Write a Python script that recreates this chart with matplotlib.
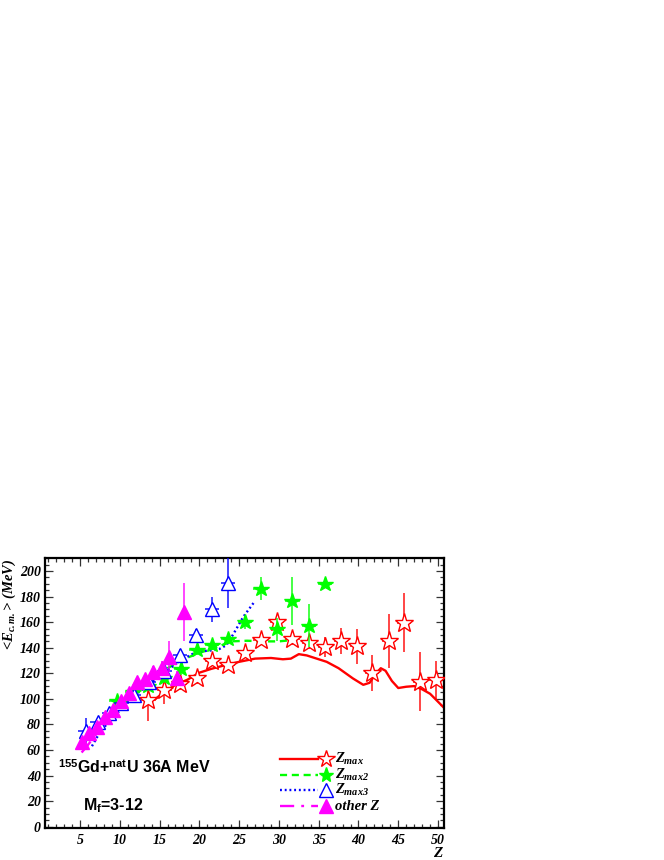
import matplotlib
matplotlib.use("Agg")
import matplotlib.pyplot as plt
from matplotlib.ticker import MultipleLocator

plt.rcParams['mathtext.fontset'] = 'custom'
plt.rcParams['mathtext.rm'] = 'Liberation Serif:bold:italic'
plt.rcParams['mathtext.it'] = 'Liberation Serif:bold:italic'
plt.rcParams['mathtext.bf'] = 'Liberation Serif:bold:italic'
plt.rcParams['mathtext.sf'] = 'Liberation Sans:bold'

# ---------------- data ----------------
# Z_max (red open stars)
zmax_z = [13.6, 15.6, 17.6, 19.7, 21.6, 23.6, 25.7, 27.7, 29.8, 31.7, 33.8, 35.8, 37.8, 39.8, 41.7, 43.8, 45.7, 47.7, 49.7]
zmax_e = [99, 107, 112, 116, 130, 126.5, 136, 146, 160.5, 147, 144, 140.5, 145.5, 141, 120.5, 145.5, 159.5, 113.5, 115]
zmax_err = [16, 11, 5, 4, 4, 3, 4, 4, 5, 5, 5, 8, 10, 14, 14, 21, 23, 23, 15]

# Z_max2 (green filled stars)
zmax2_z = [9.6, 11.6, 13.6, 15.6, 17.7, 19.65, 21.6, 23.6, 25.7, 27.7, 29.8, 31.7, 33.8, 35.8]
zmax2_e = [98, 105, 110, 116, 123, 138, 142, 147, 160, 186, 154.5, 176.7, 157.4, 190]
zmax2_err = [3, 3, 3, 3, 4, 4, 4, 4, 5, 9, 9, 19, 17, 2]

# Z_max3 (blue open triangles)
zmax3_z = [5.7, 7.2, 8.6, 10.2, 11.8, 13.7, 15.6, 17.6, 19.6, 21.6, 23.6]
zmax3_e = [75, 82, 89, 97, 103, 113, 122, 134, 150, 170, 191]
zmax3_err = [10, 4, 4, 4, 4, 4, 4, 5, 5, 10, 20]

# other Z (magenta filled triangles)
oth_z = [5.2, 6.1, 7.1, 8.2, 9.1, 10.1, 11.1, 12.1, 13.2, 14.2, 15.3, 16.2, 17.2, 18.1]
oth_e = [66.5, 73, 78, 86, 91, 98, 104.5, 113.5, 115.5, 121, 124, 133, 116, 168]
oth_err = [3, 3, 3, 3, 3, 3, 3, 4, 4, 5, 6, 12, 6, 23]

# model curves
curve_max_z = [13.7, 14.5, 15.5, 17, 18.5, 20, 21.5, 23, 25, 27, 29, 30.5, 31.5, 32.5, 33.5, 34.5, 36, 37.5,
               39.3, 40.6, 41.4, 42.2, 42.8, 43.4, 44.2, 45, 46, 47, 48, 49, 49.8, 50.75]
curve_max_e = [99, 100, 105, 111, 115, 120.5, 123.5, 126, 129, 131.5, 132, 131, 131.5, 135, 134, 132, 129, 124,
               116, 111, 112.6, 120, 124, 122, 114, 108.5, 109.5, 110, 107.5, 104, 99, 93]
curve_max2_z = [8.5, 10, 12, 14, 16, 18, 20, 22, 24, 26, 28, 30, 31.6]
curve_max2_e = [80, 93, 106, 115, 124, 131, 136, 140, 145, 145.5, 145, 145, 146]
curve_max3_z = [6.5, 7.6, 9.4, 11.7, 13.4, 15.5, 17.6, 19.7, 21.7, 22.5, 23.4, 24.3, 25.5, 26.8]
curve_max3_e = [63, 75, 87, 102, 110, 120, 130, 137, 138, 139, 142, 151, 164, 175]
curve_oth_z = [5.2, 6, 7, 8, 9, 10, 11, 12, 13, 14, 15, 16]
curve_oth_e = [58, 64, 72, 80, 88, 95, 102, 108, 113, 118, 122, 126]

x_ticks = [5, 10, 15, 20, 25, 30, 35, 40, 45, 50]
y_ticks = [0, 20, 40, 60, 80, 100, 120, 140, 160, 180, 200]

RED = '#ff0000'
GREEN = '#00ff00'
BLUE = '#0000ff'
MAG = '#ff00ff'

fig = plt.figure(figsize=(6.64, 8.6), dpi=100)
ax = fig.add_axes([0.0678, 0.0369, 0.6009, 0.3139])

# curves
ax.plot(curve_max_z, curve_max_e, color=RED, lw=1.7, zorder=2)
ax.plot(curve_max2_z, curve_max2_e, color=GREEN, lw=1.7, ls=(0, (3, 2)), zorder=2)
ax.plot(curve_max3_z, curve_max3_e, color=BLUE, lw=1.7, ls=(0, (0.8, 1.2)), zorder=2)
ax.plot(curve_oth_z, curve_oth_e, color=MAG, lw=1.7, ls=(0, (6, 3, 1.2, 3)), zorder=2)

def draw(z, e, err, xe, color, marker, ms, filled, zo):
    ax.errorbar(z, e, yerr=err, xerr=xe, fmt='none', ecolor=color, elinewidth=1.2,
                capsize=0, alpha=0.85, zorder=zo)
    ax.plot(z, e, ls='none', marker=marker, ms=ms, mec=color,
            mfc=color if filled else 'white', mew=1.0, zorder=zo + 0.5)

draw(zmax_z, zmax_e, zmax_err, 0.9, RED, '*', 14, False, 3)
draw(zmax2_z, zmax2_e, zmax2_err, 0.9, GREEN, '*', 11.5, True, 4)
draw(zmax3_z, zmax3_e, zmax3_err, 0.9, BLUE, '^', 10, False, 5)
draw(oth_z, oth_e, oth_err, 0.0, MAG, '^', 10, True, 6)

ax.set_xlim(0.6, 50.75)
ax.set_ylim(-1.25, 210)
ax.set_xticks(x_ticks)
ax.set_yticks(y_ticks)
ax.xaxis.set_minor_locator(MultipleLocator(1))
ax.yaxis.set_minor_locator(MultipleLocator(5))
ax.tick_params(which='both', direction='in', top=True, right=True, width=0.9, color='#333333')
ax.tick_params(which='major', length=6)
ax.tick_params(which='minor', length=3)
ax.tick_params(axis='x', pad=4)
ax.tick_params(axis='y', pad=3)
for sp in ax.spines.values():
    sp.set_linewidth(1.6)

tfont = dict(family='Liberation Serif', weight='bold', style='italic', size=10)
ax.set_xticklabels([str(t) for t in x_ticks], fontdict=tfont)
ax.set_yticklabels([str(t) for t in y_ticks], fontdict=tfont)

ax.text(0.985, -0.093, 'Z', transform=ax.transAxes, family='Liberation Serif', weight='bold',
        style='italic', size=11, ha='center', va='center')
ax.set_ylabel(r'<$E_{c.m.}$> (MeV)', fontdict=dict(family='Liberation Serif', weight='bold', style='italic', size=10.5),
              loc='top', labelpad=1)

# annotation texts
ax.text(0.033, 0.205, r'$^{\mathsf{155}}$Gd+$^{\mathsf{nat}}$U 36A MeV', transform=ax.transAxes,
        family='Liberation Sans', weight='bold', size=11.5, ha='left', va='baseline')
ax.text(0.095, 0.065, r'M$_{\mathsf{f}}$=3-12', transform=ax.transAxes,
        family='Liberation Sans', weight='bold', size=11.5, ha='left', va='baseline')

# legend (ROOT-like)
rows_y = [0.257, 0.197, 0.141, 0.082]
entries = [(RED, '-', '*', 13, False, r'$Z_{max}$'),
           (GREEN, (0, (3, 2)), '*', 11, True, r'$Z_{max2}$'),
           (BLUE, (0, (0.8, 1.2)), '^', 10, False, r'$Z_{max3}$'),
           (MAG, (0, (6, 3, 1.2, 3)), '^', 10, True, 'other Z')]
for yy, (c, ls, mk, ms, fl, lab) in zip(rows_y, entries):
    ax.plot([0.589, 0.684], [yy, yy], transform=ax.transAxes, color=c, ls=ls, lw=1.7, clip_on=False)
    ax.plot([0.704], [yy], transform=ax.transAxes, marker=mk, ms=ms, mec=c,
            mfc=c if fl else 'white', mew=1.0, ls='none', clip_on=False)
    ax.text(0.726, yy, lab, transform=ax.transAxes, family='Liberation Serif', weight='bold',
            style='italic', size=10.5, va='center', ha='left')

fig.savefig('out.png', dpi=100)
